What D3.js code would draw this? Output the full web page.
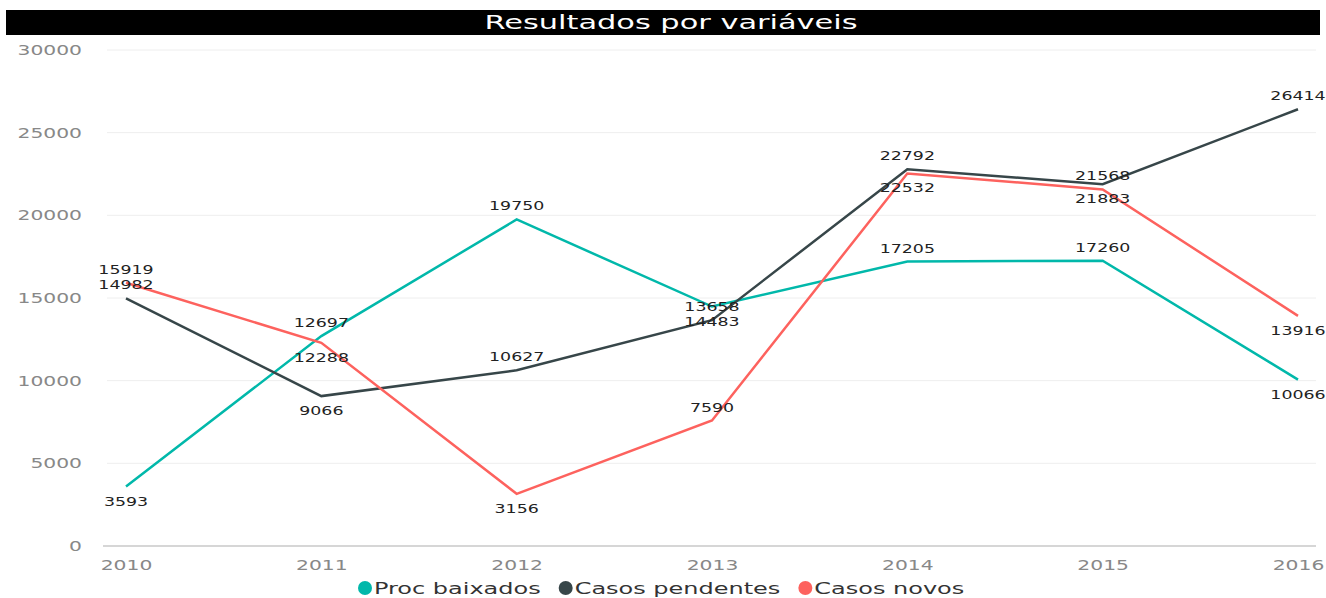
<!DOCTYPE html>
<html>
<head>
<meta charset="utf-8">
<script src="https://cdn.jsdelivr.net/npm/d3@7"></script>
<style>
  body { margin: 0; background: #fff; }
</style>
</head>
<body>
<div id="chart"></div>
<script>
// dados
const anos = ["2010", "2011", "2012", "2013", "2014", "2015", "2016"];
const procBaixados = [3593, 12697, 19750, 14483, 17205, 17260, 10066];
const casosPendentes = [14982, 9066, 10627, 13658, 22792, 21883, 26414];
const casosNovos = [15919, 12288, 3156, 7590, 22532, 21568, 13916];
const yTicks = [0, 5000, 10000, 15000, 20000, 25000, 30000];

// posição dos rótulos (acima / abaixo)
const posProc = ["b", "a", "a", "b", "a", "a", "b"];
const posPend = ["a", "b", "a", "a", "a", "b", "a"];
const posNovos = ["a", "b", "b", "a", "b", "a", "b"];

const series = [
    { nome: "Proc baixados", valores: procBaixados, pos: posProc, cor: "#01B8AA" },
    { nome: "Casos pendentes", valores: casosPendentes, pos: posPend, cor: "#374649" },
    { nome: "Casos novos", valores: casosNovos, pos: posNovos, cor: "#FD625E" }
];

const width = 1326, height = 598;
const fonte = "'DejaVu Sans', sans-serif";
const sx = 1.45; // textos largos como no original

const svg = d3.select("#chart").append("svg")
    .attr("width", width)
    .attr("height", height)
    .style("font-family", fonte);

// título
svg.append("rect")
    .attr("x", 6).attr("y", 10)
    .attr("width", 1314).attr("height", 25)
    .attr("fill", "#000");
svg.append("text")
    .attr("transform", `translate(671,29) scale(1.52,1)`)
    .attr("text-anchor", "middle")
    .attr("fill", "#fff")
    .style("font-size", "20px")
    .text("Resultados por variáveis");

const x = d3.scalePoint().domain(anos).range([126, 1298]);
const y = d3.scaleLinear().domain([0, 30000]).range([546, 50]);

// grade
svg.append("g")
    .selectAll("line")
    .data(yTicks)
    .join("line")
    .attr("x1", d => d === 0 ? 103 : 107).attr("x2", 1316)
    .attr("y1", d => y(d)).attr("y2", d => y(d))
    .attr("stroke", d => d === 0 ? "#c8c8c8" : "#eeeeee")
    .attr("stroke-width", d => d === 0 ? 1.5 : 1);

// eixo y
const eixoY = svg.append("g")
    .attr("transform", "translate(82,0)")
    .call(d3.axisLeft(y).tickValues(yTicks).tickFormat(d3.format("d")).tickSize(0).tickPadding(0));
eixoY.select(".domain").remove();
eixoY.selectAll("text")
    .attr("x", null)
    .attr("transform", `scale(${sx},1)`)
    .attr("fill", "#888")
    .style("font-size", "14px")
    .style("font-family", fonte);

// eixo x
const eixoX = svg.append("g")
    .attr("transform", "translate(0,556)")
    .call(d3.axisBottom(x).tickSize(0).tickPadding(4));
eixoX.select(".domain").remove();
eixoX.selectAll("text")
    .attr("transform", `scale(${sx},1)`)
    .attr("fill", "#888")
    .style("font-size", "14px")
    .style("font-family", fonte);

// linhas
const linha = d3.line()
    .x((d, i) => x(anos[i]))
    .y(d => y(d));

series.forEach(s => {
    svg.append("path")
        .datum(s.valores)
        .attr("fill", "none")
        .attr("stroke", s.cor)
        .attr("stroke-width", 2.5)
        .attr("d", linha);
});

// rótulos de dados
series.forEach(s => {
    svg.append("g")
        .selectAll("text")
        .data(s.valores)
        .join("text")
        .attr("transform", (d, i) => `translate(${x(anos[i])},${y(d) + (s.pos[i] === "a" ? -9 : 19)}) scale(${sx},1)`)
        .attr("text-anchor", "middle")
        .attr("fill", "#222")
        .style("font-size", "12px")
        .text(d => d);
});

// legenda
const legenda = svg.append("g").attr("transform", "translate(0,588)");
let lx = 358;
series.forEach(s => {
    legenda.append("circle")
        .attr("cx", lx + 7).attr("cy", 0)
        .attr("r", 7)
        .attr("fill", s.cor);
    const t = legenda.append("text")
        .attr("transform", `translate(${lx + 16},6) scale(1.5,1)`)
        .attr("fill", "#333")
        .style("font-size", "16px")
        .text(s.nome);
    lx += 16 + t.node().getComputedTextLength() * 1.5 + 18;
});
</script>
</body>
</html>
